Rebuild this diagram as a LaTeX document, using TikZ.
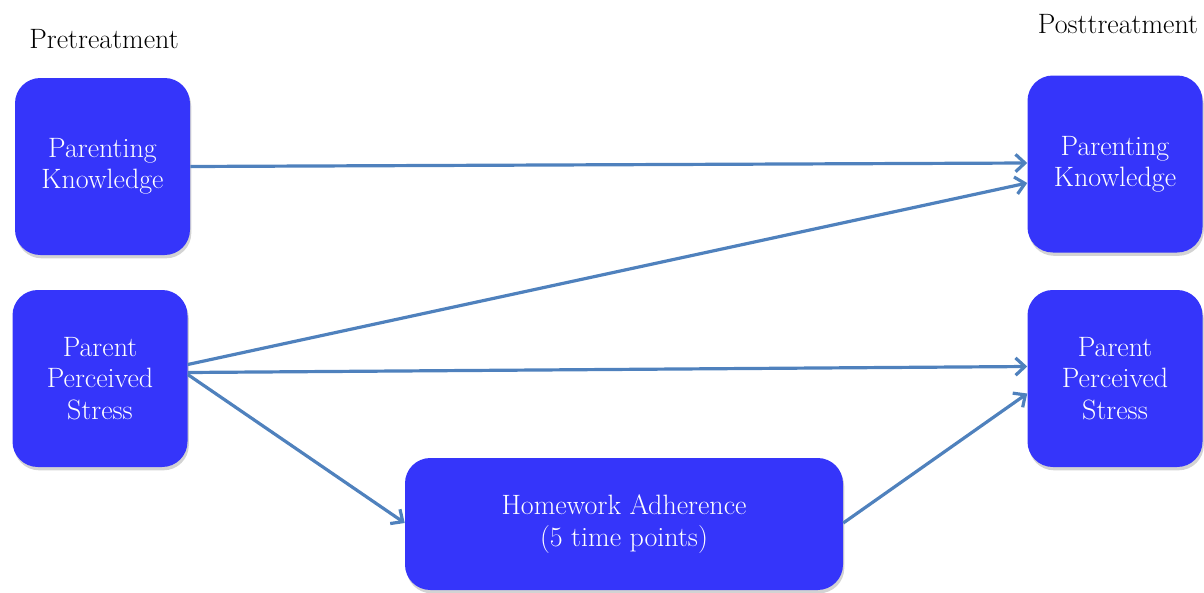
\documentclass[tikz,border=0pt]{standalone}
\usepackage{tikz}
\usetikzlibrary{arrows.meta,positioning,shadows,calc}

\definecolor{boxblue}{RGB}{53,53,250}
\definecolor{arrowblue}{RGB}{79,129,189}

\begin{document}
\begin{tikzpicture}[x=0.75pt,y=0.75pt,yscale=-1,xscale=1,
  varbox/.style={draw=none, fill=boxblue, rounded corners=19pt, text=white,
    align=center, font=\fontsize{21pt}{23.5pt}\selectfont,
    minimum width=131.25pt, minimum height=132.75pt, inner sep=0pt,
    drop shadow={opacity=0.35, shadow xshift=1pt, shadow yshift=-2.5pt}},
  path/.style={draw=arrowblue, line width=2.4pt,
    -{Straight Barb[length=7pt, width=13pt, line width=2.4pt]}},
  lbl/.style={font=\fontsize{21pt}{23.5pt}\selectfont, text=black}]
%set diagram to the size of the reference
\useasboundingbox (0,0) rectangle (1204,593);

% Headings
\node [lbl] (pre) at (104,39) {Pretreatment};
\node [lbl] (post) at (1118,24) {Posttreatment};

% Pretreatment boxes
\node [varbox] (pk1) at (102.5,166.5) {Parenting\\Knowledge};
\node [varbox] (pps1) at (100,378.5) {Parent\\Perceived\\Stress};

% Posttreatment boxes
\node [varbox] (pk2) at (1115,164) {Parenting\\Knowledge};
\node [varbox] (pps2) at (1115,378.5) {Parent\\Perceived\\Stress};

% Mediator
\node [varbox, minimum width=328.5pt, minimum height=99pt] (ha) at (624,524) {Homework Adherence\\(5 time points)};

% Paths
\draw [path] (pk1.east) -- ($(pk2.west)+(0,-1)$);
\draw [path] ($(pps1.east)+(0,-14)$) -- ($(pk2.west)+(0,19)$);
\draw [path] ($(pps1.east)+(0,-6)$) -- ($(pps2.west)+(0,-12)$);
\draw [path] ($(pps1.east)+(0,-4)$) -- ($(ha.west)+(0,-1)$);
\draw [path] ($(ha.east)+(0,-1)$) -- ($(pps2.west)+(0,15)$);

\end{tikzpicture}
\end{document}
